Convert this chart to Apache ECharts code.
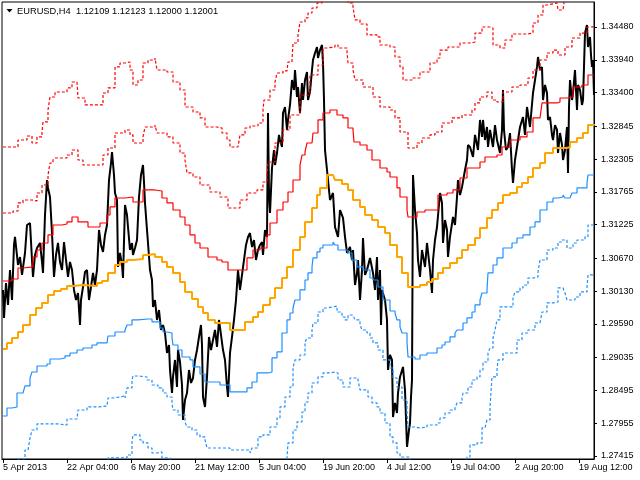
<!DOCTYPE html>
<html><head><meta charset="utf-8">
<script src="https://cdn.jsdelivr.net/npm/echarts@6/dist/echarts.min.js"></script>
<style>html,body{margin:0;padding:0;background:#fff}#c{width:640px;height:480px}</style>
</head><body><div id="c"></div><script>
// x values are H4 bar indices, y values are EURUSD prices
const xTickBars = [1,65,129,193,257,321,385,449,513,577];
const xTickLabels = ["5 Apr 2013","22 Apr 04:00","6 May 20:00","21 May 12:00","5 Jun 04:00","19 Jun 20:00","4 Jul 12:00","19 Jul 04:00","2 Aug 20:00","19 Aug 12:00"];
const yTickValues = [1.27415,1.27955,1.28495,1.29035,1.29590,1.30130,1.30670,1.31225,1.31765,1.32305,1.32845,1.33400,1.33940,1.34480];
const Y_MIN = 1.27365, Y_MAX = 1.34892, X_MAX = 592;
const titleText = "EURUSD,H4  1.12109 1.12123 1.12000 1.12001";

const priceBars = [[1,1.30149],[2,1.29688],[4,1.30264],[6,1.29902],[8,1.30478],[10,1.29984],[12,1.30890],[13,1.31022],[15,1.31005],[16,1.30560],[18,1.30692],[20,1.30396],[23,1.30758],[25,1.31219],[28,1.31252],[30,1.30643],[31,1.30363],[33,1.30725],[35,1.30840],[38,1.30923],[40,1.30610],[41,1.30429],[43,1.31384],[45,1.31960],[46,1.31829],[48,1.31680],[50,1.31087],[52,1.30363],[54,1.30725],[56,1.30923],[58,1.30610],[60,1.30478],[62,1.30939],[64,1.30643],[66,1.30363],[68,1.30610],[70,1.30478],[72,1.30149],[74,1.29984],[76,1.30099],[78,1.29572],[79,1.29984],[81,1.30198],[83,1.30445],[85,1.30478],[87,1.29984],[89,1.30198],[91,1.30429],[93,1.30231],[95,1.30478],[97,1.31137],[99,1.30890],[101,1.30775],[103,1.31055],[105,1.31219],[107,1.31960],[109,1.32240],[110,1.32422],[112,1.32043],[113,1.31746],[115,1.31631],[116,1.30528],[118,1.30758],[120,1.30560],[121,1.30346],[123,1.31549],[125,1.31384],[126,1.31186],[128,1.30807],[130,1.30923],[131,1.30725],[133,1.30840],[135,1.30972],[137,1.31680],[139,1.32043],[141,1.32207],[142,1.31927],[143,1.31582],[145,1.31137],[146,1.30923],[148,1.30478],[150,1.30313],[151,1.29869],[153,1.29984],[155,1.29655],[157,1.29819],[159,1.29490],[161,1.29572],[163,1.29440],[165,1.29111],[167,1.29243],[168,1.28831],[170,1.28452],[171,1.28716],[173,1.28996],[175,1.28551],[176,1.29160],[178,1.28963],[180,1.28584],[181,1.28008],[183,1.28337],[185,1.28452],[187,1.28831],[189,1.28617],[191,1.28699],[193,1.28996],[195,1.29160],[197,1.29375],[199,1.29572],[200,1.29243],[201,1.28386],[203,1.28222],[205,1.28716],[207,1.29375],[209,1.29160],[211,1.29325],[213,1.29490],[215,1.29210],[217,1.29655],[219,1.29408],[221,1.29160],[223,1.28996],[225,1.28551],[226,1.28386],[228,1.29111],[230,1.29375],[232,1.29655],[234,1.29984],[236,1.30478],[238,1.30149],[240,1.30396],[242,1.30643],[244,1.30890],[246,1.31022],[248,1.31087],[250,1.30857],[252,1.30972],[254,1.30643],[256,1.30807],[258,1.30890],[260,1.30939],[261,1.30725],[263,1.31137],[265,1.31022],[266,1.33064],[267,1.31713],[268,1.31417],[270,1.32158],[272,1.32454],[273,1.32207],[275,1.32405],[277,1.32702],[278,1.32619],[280,1.32504],[281,1.33064],[283,1.33163],[285,1.32784],[286,1.32949],[288,1.33196],[290,1.33607],[292,1.33443],[293,1.33772],[295,1.33327],[296,1.33492],[298,1.33064],[300,1.33558],[301,1.33278],[303,1.33607],[305,1.33739],[306,1.33278],[308,1.33410],[310,1.33772],[311,1.33937],[313,1.34052],[315,1.34151],[316,1.33970],[318,1.34101],[320,1.34184],[321,1.33887],[322,1.33278],[323,1.32454],[325,1.32125],[326,1.31960],[328,1.31631],[331,1.31746],[333,1.31186],[336,1.31022],[338,1.31466],[341,1.31335],[343,1.31022],[345,1.30758],[348,1.30857],[350,1.30643],[351,1.30807],[353,1.30231],[355,1.30429],[356,1.30643],[358,1.29984],[360,1.30478],[361,1.31005],[363,1.30396],[365,1.30478],[368,1.30676],[371,1.30429],[373,1.30149],[375,1.30692],[376,1.29984],[378,1.30478],[379,1.29572],[380,1.30149],[383,1.29984],[385,1.29655],[386,1.28831],[388,1.29078],[390,1.28996],[391,1.28057],[393,1.28288],[395,1.28123],[396,1.28452],[398,1.28716],[401,1.28881],[403,1.28502],[405,1.27563],[407,1.27843],[408,1.27958],[409,1.28386],[410,1.28666],[411,1.32043],[413,1.31466],[415,1.31087],[416,1.30643],[418,1.30363],[420,1.30807],[423,1.30528],[425,1.30923],[428,1.30478],[430,1.30099],[431,1.30643],[433,1.30972],[435,1.31186],[438,1.31746],[440,1.31582],[441,1.30923],[443,1.31302],[445,1.31137],[446,1.30692],[448,1.31022],[451,1.31351],[453,1.31219],[455,1.31680],[456,1.31960],[458,1.31713],[460,1.31845],[463,1.32125],[465,1.32290],[466,1.32537],[468,1.32504],[471,1.32339],[473,1.32702],[476,1.32454],[478,1.32949],[480,1.32669],[481,1.32949],[483,1.32619],[485,1.32833],[486,1.32504],[488,1.32784],[491,1.32504],[493,1.32866],[495,1.32619],[498,1.32405],[500,1.32784],[501,1.33443],[502,1.32784],[504,1.32454],[506,1.32504],[508,1.32734],[510,1.32125],[511,1.31911],[513,1.32290],[515,1.32504],[518,1.32833],[521,1.32998],[523,1.32702],[525,1.33163],[528,1.32833],[531,1.33393],[533,1.33607],[535,1.33822],[536,1.33986],[538,1.33772],[540,1.33822],[541,1.33278],[543,1.33525],[545,1.33393],[546,1.32949],[548,1.32998],[550,1.32702],[551,1.32619],[553,1.32866],[555,1.32784],[556,1.32405],[558,1.32734],[560,1.32537],[561,1.32290],[563,1.32454],[565,1.32833],[566,1.32076],[567,1.33163],[568,1.33607],[570,1.33278],[571,1.33393],[573,1.33772],[575,1.33113],[576,1.33525],[578,1.33443],[580,1.33196],[581,1.33278],[583,1.34381],[585,1.34513],[586,1.34151],[588,1.34316],[589,1.34019],[590,1.33822],[591,1.33937],[592,1.33360]];

const maLine = [[1,1.29177],[5,1.29276],[10,1.29358],[16,1.29457],[21,1.29572],[28,1.29737],[34,1.29852],[40,1.29935],[46,1.30066],[52,1.30132],[59,1.30165],[65,1.30215],[71,1.30231],[81,1.30215],[95,1.30264],[100,1.30297],[106,1.30429],[113,1.30560],[118,1.30610],[125,1.30643],[131,1.30659],[141,1.30725],[146,1.30742],[153,1.30692],[160,1.30610],[165,1.30528],[171,1.30429],[178,1.30280],[183,1.30116],[190,1.30000],[196,1.29869],[201,1.29770],[206,1.29655],[213,1.29605],[225,1.29605],[228,1.29490],[238,1.29490],[243,1.29622],[251,1.29704],[256,1.29786],[261,1.29902],[268,1.30017],[273,1.30182],[280,1.30346],[285,1.30528],[291,1.30807],[298,1.31022],[303,1.31269],[310,1.31499],[315,1.31713],[318,1.31829],[325,1.32043],[331,1.32043],[333,1.31960],[340,1.31895],[346,1.31796],[351,1.31631],[358,1.31516],[363,1.31384],[370,1.31302],[376,1.31186],[383,1.31087],[388,1.30890],[395,1.30692],[400,1.30429],[406,1.30198],[413,1.30198],[418,1.30231],[425,1.30280],[430,1.30330],[436,1.30429],[441,1.30511],[448,1.30593],[455,1.30676],[460,1.30807],[466,1.30890],[473,1.31005],[478,1.31170],[485,1.31335],[490,1.31466],[496,1.31582],[501,1.31713],[508,1.31746],[515,1.31845],[520,1.31911],[526,1.32010],[531,1.32158],[538,1.32240],[543,1.32405],[551,1.32487],[565,1.32504],[568,1.32586],[575,1.32652],[581,1.32734],[586,1.32866],[592,1.32883]];

const upper1 = [[1,1.30297],[10,1.30330],[16,1.30511],[21,1.30528],[31,1.30692],[35,1.30807],[40,1.30923],[46,1.31055],[51,1.31219],[60,1.31236],[65,1.31269],[70,1.31351],[76,1.31269],[86,1.31186],[98,1.31252],[105,1.31384],[108,1.31516],[113,1.31664],[123,1.31680],[131,1.31598],[141,1.31796],[153,1.31779],[160,1.31664],[165,1.31582],[171,1.31466],[178,1.31351],[183,1.31219],[188,1.31055],[193,1.30923],[198,1.30840],[206,1.30692],[215,1.30643],[220,1.30610],[226,1.30478],[238,1.30478],[245,1.30676],[251,1.30807],[258,1.30840],[265,1.31055],[268,1.31252],[275,1.31466],[281,1.31598],[286,1.31763],[291,1.31960],[298,1.32207],[300,1.32372],[303,1.32422],[305,1.32570],[310,1.32570],[311,1.32734],[316,1.32949],[321,1.33064],[328,1.33113],[335,1.33031],[341,1.32982],[346,1.32817],[351,1.32784],[352,1.32586],[358,1.32537],[365,1.32454],[370,1.32290],[378,1.32158],[385,1.32092],[388,1.32010],[395,1.31829],[398,1.31680],[405,1.31466],[406,1.31351],[415,1.31433],[423,1.31466],[436,1.31713],[445,1.31746],[451,1.31796],[458,1.31993],[465,1.32158],[478,1.32257],[483,1.32339],[495,1.32372],[500,1.32504],[508,1.32619],[518,1.32669],[525,1.32751],[531,1.32982],[538,1.32998],[540,1.33229],[555,1.33245],[558,1.33311],[565,1.33327],[571,1.33492],[580,1.33525],[586,1.33690],[592,1.33690]];

const upper2 = [[1,1.31417],[11,1.31450],[16,1.31582],[21,1.31631],[30,1.31615],[35,1.31746],[40,1.31878],[46,1.32043],[48,1.32240],[51,1.32290],[53,1.32323],[65,1.32372],[70,1.32454],[76,1.32290],[81,1.32207],[98,1.32207],[101,1.32372],[106,1.32487],[113,1.32734],[123,1.32784],[128,1.32702],[131,1.32570],[141,1.32669],[143,1.32833],[153,1.32866],[155,1.32734],[165,1.32669],[171,1.32570],[178,1.32405],[183,1.32290],[185,1.32076],[191,1.32010],[198,1.31878],[208,1.31763],[218,1.31680],[226,1.31499],[235,1.31499],[238,1.31631],[245,1.31746],[255,1.31796],[261,1.31927],[265,1.32043],[266,1.32257],[273,1.32570],[281,1.32784],[288,1.33031],[298,1.33360],[308,1.33690],[316,1.33854],[321,1.34134],[325,1.34151],[333,1.34184],[336,1.34134],[345,1.34069],[346,1.33887],[351,1.33772],[353,1.33607],[361,1.33492],[371,1.33327],[378,1.33163],[388,1.33113],[393,1.32982],[398,1.32751],[406,1.32487],[415,1.32570],[420,1.32652],[428,1.32702],[433,1.32751],[440,1.32899],[450,1.32982],[460,1.33031],[470,1.33113],[473,1.33229],[478,1.33327],[485,1.33410],[490,1.33278],[495,1.33245],[501,1.33410],[510,1.33492],[518,1.33525],[526,1.33640],[531,1.33772],[538,1.33937],[545,1.34052],[551,1.34101],[556,1.34019],[563,1.34151],[570,1.34299],[578,1.34381],[585,1.34480],[591,1.34513]];

const upper3 = [[1,1.32504],[11,1.32504],[16,1.32619],[25,1.32685],[30,1.32570],[35,1.32669],[40,1.32751],[41,1.32916],[46,1.33113],[48,1.33327],[53,1.33410],[65,1.33476],[70,1.33574],[75,1.33574],[76,1.33311],[83,1.33196],[98,1.33196],[101,1.33393],[106,1.33476],[113,1.33822],[118,1.33887],[123,1.33904],[128,1.33772],[131,1.33525],[136,1.33607],[141,1.33887],[146,1.33937],[153,1.33970],[155,1.33772],[165,1.33739],[171,1.33574],[178,1.33443],[183,1.33163],[191,1.33080],[198,1.32982],[203,1.32833],[215,1.32817],[220,1.32734],[225,1.32619],[228,1.32504],[236,1.32504],[238,1.32702],[243,1.32817],[248,1.32850],[256,1.32899],[261,1.33113],[262,1.33278],[268,1.33443],[273,1.33574],[275,1.33723],[281,1.33756],[285,1.33772],[286,1.33904],[290,1.33937],[291,1.34217],[296,1.34349],[298,1.34563],[303,1.34629],[306,1.34711],[310,1.34793],[315,1.34876],[320,1.35007],[333,1.35090],[343,1.34974],[346,1.34876],[351,1.34810],[353,1.34596],[358,1.34530],[365,1.34349],[375,1.34316],[378,1.34184],[388,1.34151],[393,1.33986],[398,1.33822],[401,1.33607],[410,1.33640],[418,1.33739],[428,1.33887],[435,1.33970],[438,1.34101],[446,1.34151],[458,1.34217],[470,1.34233],[473,1.34381],[480,1.34480],[488,1.34464],[491,1.34184],[498,1.34134],[503,1.34266],[510,1.34365],[525,1.34381],[531,1.34546],[536,1.34678],[541,1.34843],[545,1.34875],[555,1.34875],[556,1.34760],[561,1.34760],[563,1.35007],[573,1.35172],[583,1.35254],[591,1.35337]];

const lower1 = [[1,1.28073],[5,1.28205],[10,1.28222],[15,1.28452],[21,1.28452],[23,1.28568],[28,1.28699],[30,1.28798],[35,1.28897],[45,1.28930],[48,1.29012],[58,1.29029],[63,1.29062],[68,1.29111],[75,1.29160],[81,1.29193],[90,1.29243],[95,1.29276],[105,1.29276],[106,1.29391],[113,1.29457],[118,1.29457],[123,1.29490],[125,1.29572],[130,1.29655],[136,1.29671],[146,1.29671],[150,1.29622],[155,1.29622],[158,1.29523],[161,1.29457],[165,1.29440],[170,1.29358],[171,1.29243],[176,1.29160],[180,1.29045],[188,1.28996],[191,1.28881],[198,1.28765],[203,1.28633],[218,1.28584],[228,1.28469],[238,1.28469],[245,1.28535],[250,1.28633],[255,1.28782],[266,1.28798],[270,1.29029],[275,1.29128],[280,1.29440],[285,1.29655],[288,1.29770],[291,1.29852],[293,1.29984],[298,1.30149],[303,1.30313],[306,1.30429],[310,1.30528],[311,1.30676],[315,1.30775],[318,1.30840],[321,1.30890],[331,1.30939],[333,1.30890],[336,1.30807],[346,1.30758],[350,1.30643],[355,1.30528],[361,1.30478],[368,1.30346],[371,1.30313],[376,1.30198],[381,1.29984],[388,1.29803],[393,1.29770],[395,1.29655],[398,1.29539],[400,1.29440],[405,1.29292],[406,1.29045],[413,1.29012],[418,1.29078],[425,1.29111],[435,1.29193],[440,1.29243],[443,1.29292],[448,1.29375],[453,1.29440],[455,1.29490],[461,1.29605],[465,1.29688],[470,1.29786],[473,1.29902],[478,1.29984],[480,1.30099],[485,1.30149],[486,1.30429],[491,1.30560],[495,1.30676],[501,1.30840],[510,1.30923],[515,1.31005],[521,1.31055],[528,1.31186],[533,1.31269],[538,1.31466],[545,1.31598],[551,1.31664],[556,1.31680],[561,1.31713],[563,1.31664],[568,1.31664],[570,1.31746],[575,1.31829],[585,1.31911],[586,1.32043],[592,1.32043]];

const lower2 = [[1,1.26937],[8,1.27102],[16,1.27365],[23,1.27513],[26,1.27530],[28,1.27711],[30,1.27843],[35,1.27942],[51,1.27942],[56,1.27925],[65,1.28024],[75,1.28041],[76,1.28172],[85,1.28222],[95,1.28238],[105,1.28238],[106,1.28370],[111,1.28386],[118,1.28403],[123,1.28370],[125,1.28535],[130,1.28666],[131,1.28732],[136,1.28716],[145,1.28666],[150,1.28584],[156,1.28535],[161,1.28452],[165,1.28386],[170,1.28288],[171,1.28172],[176,1.28090],[183,1.27975],[185,1.27892],[190,1.27843],[195,1.27761],[198,1.27728],[203,1.27678],[205,1.27546],[218,1.27546],[228,1.27513],[248,1.27464],[250,1.27546],[256,1.27728],[261,1.27761],[268,1.27892],[275,1.28041],[278,1.28222],[283,1.28386],[288,1.28551],[291,1.28864],[293,1.28996],[298,1.29078],[303,1.29292],[305,1.29358],[310,1.29490],[311,1.29605],[316,1.29786],[321,1.29852],[325,1.29869],[331,1.29885],[335,1.29786],[340,1.29704],[343,1.29655],[346,1.29737],[351,1.29721],[353,1.29655],[358,1.29572],[360,1.29490],[365,1.29440],[368,1.29358],[371,1.29276],[376,1.29160],[381,1.28996],[388,1.28864],[391,1.28699],[395,1.28551],[400,1.28337],[405,1.28123],[406,1.27892],[413,1.27876],[418,1.27892],[425,1.27925],[435,1.27958],[438,1.28041],[443,1.28123],[448,1.28172],[453,1.28205],[455,1.28288],[460,1.28370],[461,1.28452],[466,1.28551],[470,1.28666],[475,1.28716],[478,1.28831],[481,1.28963],[486,1.29111],[488,1.29193],[491,1.29358],[493,1.29490],[495,1.29655],[498,1.29869],[511,1.30017],[513,1.30116],[518,1.30182],[521,1.30231],[526,1.30346],[531,1.30363],[536,1.30445],[538,1.30643],[545,1.30807],[551,1.30840],[556,1.30939],[560,1.30972],[565,1.30840],[568,1.30840],[571,1.30923],[575,1.30972],[583,1.31022],[586,1.31219],[592,1.31219]];

const lower3 = [[1,1.25784],[18,1.26196],[38,1.26608],[58,1.26855],[78,1.27102],[98,1.27299],[106,1.27382],[111,1.27382],[125,1.27431],[130,1.27645],[131,1.27761],[135,1.27761],[138,1.27678],[141,1.27629],[146,1.27546],[150,1.27464],[155,1.27481],[160,1.27382],[168,1.27184],[183,1.26937],[198,1.26772],[218,1.26690],[238,1.26608],[253,1.26772],[268,1.27019],[278,1.27184],[285,1.27382],[286,1.27629],[291,1.27843],[295,1.27975],[300,1.28139],[303,1.28304],[306,1.28452],[310,1.28617],[316,1.28716],[321,1.28782],[328,1.28798],[333,1.28782],[336,1.28666],[341,1.28551],[345,1.28551],[348,1.28699],[356,1.28666],[358,1.28502],[366,1.28386],[370,1.28288],[375,1.28222],[378,1.28123],[383,1.27958],[388,1.27728],[391,1.27629],[395,1.27464],[398,1.27398],[408,1.27102],[428,1.26888],[448,1.27151],[465,1.27398],[468,1.27596],[475,1.27629],[480,1.27876],[483,1.27892],[485,1.28008],[488,1.28222],[490,1.28716],[495,1.28831],[496,1.28996],[501,1.29111],[511,1.29111],[515,1.29325],[520,1.29440],[526,1.29490],[533,1.29605],[538,1.29622],[540,1.29786],[545,1.29935],[551,1.29951],[556,1.30182],[561,1.30198],[563,1.30099],[565,1.29984],[573,1.30033],[578,1.30116],[585,1.30198],[586,1.30396],[592,1.30396]];

const FONT = "'Liberation Sans', Arial, sans-serif";
const RED = '#FF0000', BLUE = '#1E90FF', ORANGE = '#FFA500';

function stepLine(name, data, color, dashed, width, z) {
  return { name, type: 'line', data, step: 'end', symbol: 'none', showSymbol: false,
    clip: true, silent: true, z: z,
    lineStyle: { color, width: width, type: dashed ? [3, 2] : 'solid', cap: 'butt' } };
}

const chart = echarts.init(document.getElementById('c'), null, { renderer: 'canvas' });
chart.setOption({
  animation: false,
  backgroundColor: '#fff',
  grid: { left: 2, top: 2, right: 46, bottom: 21, show: true, borderColor: '#000', borderWidth: 1 },
  xAxis: {
    type: 'value', min: 0, max: X_MAX,
    axisLine: { show: true, onZero: false, lineStyle: { color: '#000', width: 1 } },
    axisTick: { show: true, length: 4, customValues: xTickBars, lineStyle: { color: '#000' } },
    axisLabel: { customValues: xTickBars, color: '#000', fontSize: 9, fontFamily: FONT, align: 'left', margin: 4,
      formatter: v => { const i = xTickBars.indexOf(Math.round(v)); return i >= 0 ? xTickLabels[i] : ''; } },
    splitLine: { show: false }
  },
  yAxis: {
    type: 'value', position: 'right', min: Y_MIN, max: Y_MAX,
    axisLine: { show: true, onZero: false, lineStyle: { color: '#000', width: 1 } },
    axisTick: { show: true, length: 3, customValues: yTickValues, lineStyle: { color: '#000' } },
    axisLabel: { customValues: yTickValues, color: '#000', fontSize: 9, fontFamily: FONT, margin: 7,
      formatter: v => v.toFixed(5) },
    splitLine: { show: false }
  },
  series: [
    { name: 'EURUSD', type: 'line', data: priceBars, symbol: 'none', showSymbol: false, clip: true, silent: true, z: 2,
      lineStyle: { color: '#000', width: 2 } },
    stepLine('upper3', upper3, RED, true, 1.2, 3),
    stepLine('upper2', upper2, RED, true, 1.2, 3),
    stepLine('upper1', upper1, RED, false, 1.2, 3),
    stepLine('lower1', lower1, BLUE, false, 1.2, 3),
    stepLine('lower2', lower2, BLUE, true, 1.2, 3),
    stepLine('lower3', lower3, BLUE, true, 1.2, 3),
    stepLine('ma', maLine, ORANGE, false, 2, 4)
  ],
  graphic: [
    { type: 'polygon', z: 100, shape: { points: [[6.5, 9], [12.5, 9], [9.5, 12.5]] }, style: { fill: '#000' } },
    { type: 'text', z: 100, x: 17, y: 11, style: { text: titleText, fontSize: 9.3, fontFamily: FONT, fill: '#000', verticalAlign: 'middle' } }
  ]
});
</script></body></html>
